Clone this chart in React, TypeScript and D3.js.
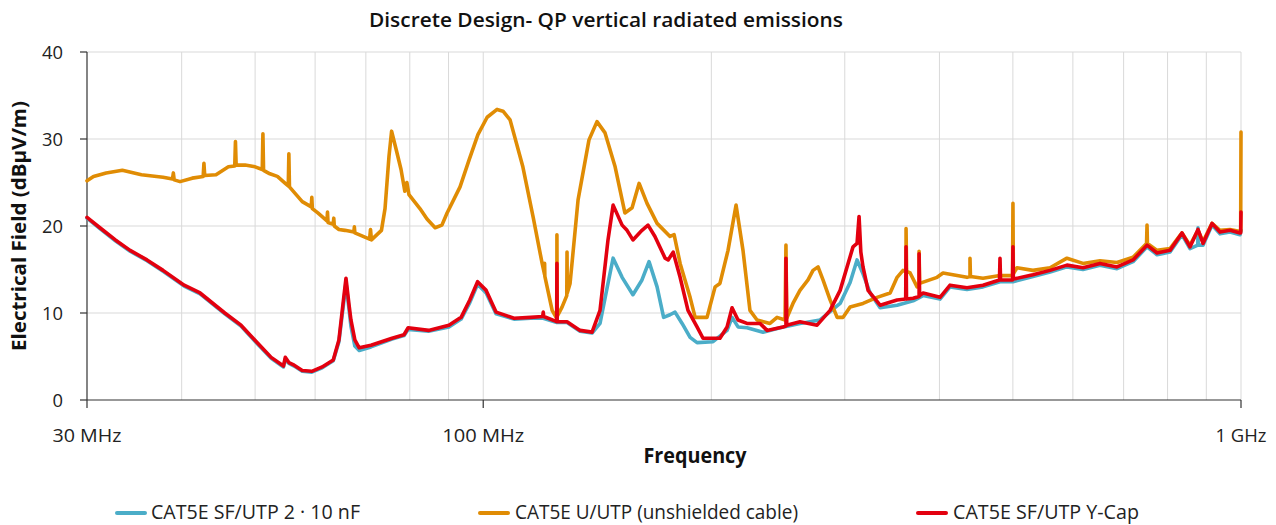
import React from "react";
import * as d3 from "d3";

const seriesNames = ["CAT5E SF/UTP 2 · 10 nF", "CAT5E U/UTP (unshielded cable)", "CAT5E SF/UTP Y-Cap"];
const seriesColors = ["#4badc8", "#e08c04", "#e3000f"];
const yTicks = [0, 10, 20, 30, 40];
const xTickValues = [30, 100, 1000];
const xTickLabels = ["30 MHz", "100 MHz", "1 GHz"];
const xGrid = [40, 50, 60, 70, 80, 90, 100, 200, 300, 400, 500, 600, 700, 800, 900, 1000];

// [frequency MHz, dBµV/m]
const blueData: [number, number][] = [
  [30.0, 20.9], [31.2, 19.7], [32.7, 18.3], [34.2, 17.1], [36.0, 16.0], [37.8, 14.8], [40.3, 13.1], [42.3, 12.2],
  [45.6, 9.9], [47.9, 8.5], [50.3, 6.5], [52.5, 4.8], [54.5, 3.8], [54.8, 4.7], [55.4, 4.2], [56.3, 3.9],
  [57.7, 3.3], [59.4, 3.2], [61.3, 3.7], [63.4, 4.5], [64.5, 6.7], [65.3, 10.5], [65.9, 13.5], [66.5, 10.5],
  [66.9, 8.5], [67.7, 6.2], [68.6, 5.7], [71.1, 6.1], [75.8, 7.0], [78.6, 7.4], [79.6, 8.1], [84.7, 7.9],
  [90.1, 8.4], [93.5, 9.3], [96.0, 11.2], [98.3, 13.3], [100.9, 12.3], [104.0, 9.9], [109.8, 9.3], [115.5, 9.4],
  [120.0, 9.4], [125.1, 8.9], [129.0, 8.9], [134.2, 7.9], [139.2, 7.7], [142.6, 8.8], [146.1, 13.4], [148.4, 16.3],
  [152.5, 14.1], [157.6, 12.1], [162.0, 13.8], [165.5, 15.9], [169.6, 13.0], [173.0, 9.5], [176.4, 9.8], [179.1, 10.1],
  [183.0, 8.8], [187.5, 7.2], [191.5, 6.6], [201.0, 6.7], [209.8, 8.0], [213.0, 9.5], [216.9, 8.4], [222.9, 8.3],
  [234.0, 7.8], [246.5, 8.3], [261.8, 8.8], [278.3, 9.2], [295.8, 11.1], [304.9, 13.5], [311.4, 16.1], [317.1, 14.5],
  [324.0, 12.3], [334.0, 10.6], [351.7, 10.9], [369.2, 11.4], [380.6, 12.0], [400.7, 11.6], [413.1, 13.0], [434.9, 12.7],
  [456.6, 13.0], [480.8, 13.6], [500.1, 13.6], [531.4, 14.2], [559.8, 14.7], [589.3, 15.3], [618.7, 15.0], [651.5, 15.5],
  [686.1, 15.1], [720.3, 15.9], [751.6, 17.6], [774.8, 16.7], [806.0, 17.0], [835.8, 19.0], [856.4, 17.4], [877.0, 17.8],
  [877.5, 19.8], [878.0, 17.8], [891.0, 17.8], [915.7, 20.1], [938.2, 19.1], [967.2, 19.3], [997.0, 19.0], [1000, 19.5],
];

const orangeData: [number, number][] = [
  [30.0, 25.2], [30.6, 25.7], [31.8, 26.1], [33.4, 26.4], [35.4, 25.9], [37.8, 25.6], [38.9, 25.4], [39.0, 26.1],
  [39.1, 25.3], [39.8, 25.1], [41.3, 25.5], [42.7, 25.7], [42.8, 27.2], [42.9, 25.8], [44.4, 25.9], [46.1, 26.8],
  [47.0, 26.9], [47.1, 29.7], [47.2, 27.0], [48.5, 27.0], [50.0, 26.8], [51.1, 26.5], [51.2, 30.6], [51.3, 26.4],
  [52.3, 26.0], [53.5, 25.7], [54.8, 24.9], [55.3, 24.6], [55.4, 28.3], [55.5, 24.5], [57.7, 22.8], [59.3, 22.2],
  [59.4, 23.3], [59.5, 22.0], [60.5, 21.5], [62.2, 20.6], [62.3, 21.6], [62.4, 20.4], [63.4, 20.2], [63.5, 20.9],
  [63.6, 20.0], [64.5, 19.6], [65.7, 19.5], [67.5, 19.3], [67.6, 19.9], [67.7, 19.2], [70.8, 18.5], [71.0, 19.6],
  [71.2, 18.4], [73.4, 19.5], [74.2, 22.0], [75.1, 28.0], [75.7, 30.9], [76.9, 28.5], [77.9, 26.5], [78.8, 24.0],
  [79.3, 25.0], [79.8, 23.6], [82.5, 22.0], [84.3, 20.8], [86.4, 19.8], [88.2, 20.1], [89.6, 21.5], [93.2, 24.5],
  [95.8, 27.6], [98.4, 30.5], [101.2, 32.5], [104.3, 33.4], [106.2, 33.2], [108.5, 32.2], [112.8, 26.8], [116.4, 21.0],
  [119.6, 15.7], [120.5, 14.4], [120.5, 15.7], [120.6, 14.2], [123.3, 10.3], [124.8, 9.5], [125.1, 9.5], [125.1, 19.0],
  [125.2, 9.6], [127.1, 10.7], [128.9, 12.0], [129.0, 17.0], [129.1, 12.3], [130.2, 13.4], [133.4, 23.0], [137.9, 29.9],
  [141.3, 32.0], [144.8, 30.7], [149.3, 26.8], [153.8, 21.5], [157.2, 22.1], [160.6, 24.9], [164.5, 22.6], [169.6, 20.3],
  [176.4, 18.8], [178.6, 19.0], [181.9, 15.7], [187.5, 11.8], [190.4, 9.5], [197.4, 9.5], [202.3, 13.0], [205.3, 13.4],
  [210.4, 17.2], [215.6, 22.4], [220.2, 17.2], [224.9, 10.3], [229.8, 9.2], [239.0, 8.8], [244.2, 9.5], [250.2, 9.2],
  [250.9, 17.8], [251.5, 9.4], [256.3, 11.1], [261.8, 12.6], [268.3, 13.8], [272.4, 14.9], [276.6, 15.3], [280.8, 13.8],
  [286.9, 11.5], [293.1, 9.5], [298.5, 9.5], [304.9, 10.7], [317.1, 11.1], [330.9, 11.8], [344.3, 12.3], [351.7, 14.1],
  [358.1, 14.9], [361.4, 14.8], [361.4, 19.7], [362.0, 14.8], [365.9, 14.6], [373.7, 13.0], [376.0, 13.2], [376.0, 17.1],
  [376.6, 13.4], [397.1, 14.1], [404.4, 14.6], [434.9, 14.1], [438.9, 14.2], [438.9, 16.3], [439.5, 14.2], [456.6, 14.0],
  [480.8, 14.3], [499.5, 14.3], [500.1, 22.6], [500.7, 14.5], [506.2, 15.2], [531.4, 14.9], [559.8, 15.2], [589.3, 16.3],
  [618.7, 15.7], [651.5, 16.0], [686.1, 15.8], [720.3, 16.4], [750.5, 18.0], [751.6, 20.1], [752.5, 18.0], [774.8, 17.2],
  [806.0, 17.4], [835.8, 19.2], [856.4, 17.8], [877.5, 19.5], [891.0, 18.2], [915.7, 20.3], [938.2, 19.5], [967.2, 19.6],
  [994.0, 19.4], [999.0, 19.4], [1000, 30.8],
];

const redData: [number, number][] = [
  [30.0, 21.0], [31.2, 19.8], [32.7, 18.4], [34.2, 17.2], [36.0, 16.1], [37.8, 14.9], [40.3, 13.2], [42.3, 12.3],
  [45.6, 10.0], [47.9, 8.6], [50.3, 6.6], [52.5, 4.9], [54.5, 3.9], [54.8, 4.9], [55.4, 4.3], [56.3, 4.0],
  [57.7, 3.4], [59.4, 3.3], [61.3, 3.8], [63.4, 4.6], [64.5, 6.9], [65.3, 11.0], [65.9, 14.0], [66.5, 11.0],
  [66.9, 9.2], [67.7, 6.9], [68.6, 6.0], [71.1, 6.3], [75.8, 7.1], [78.6, 7.5], [79.6, 8.3], [84.7, 8.0],
  [90.1, 8.6], [93.5, 9.5], [96.0, 11.5], [98.3, 13.6], [100.9, 12.6], [104.0, 10.1], [109.8, 9.4], [115.5, 9.5],
  [119.8, 9.6], [120.0, 10.1], [120.2, 9.6], [125.0, 9.0], [125.1, 15.7], [125.2, 9.0], [129.0, 9.0], [134.2, 8.0],
  [139.2, 7.8], [142.6, 10.3], [146.1, 18.4], [148.4, 22.4], [152.5, 20.1], [154.8, 19.5], [157.6, 18.4], [162.0, 19.5],
  [165.0, 20.1], [168.5, 18.8], [173.8, 16.3], [175.4, 16.1], [178.1, 17.0], [181.9, 14.1], [186.3, 10.3], [191.5, 8.4],
  [195.0, 7.1], [205.3, 7.1], [209.8, 8.4], [213.0, 10.6], [216.9, 9.2], [222.9, 8.8], [231.9, 8.8], [236.9, 8.0],
  [248.6, 8.4], [250.9, 8.5], [250.9, 16.3], [251.5, 8.6], [261.8, 9.0], [275.8, 8.6], [286.9, 10.3], [295.8, 12.6],
  [307.6, 17.6], [311.4, 18.0], [313.3, 21.1], [315.0, 17.0], [317.1, 15.3], [322.0, 12.6], [334.0, 10.9], [351.7, 11.5],
  [361.0, 11.6], [361.4, 17.6], [361.9, 11.6], [369.2, 11.7], [376.0, 11.9], [376.0, 16.8], [376.6, 12.0], [380.6, 12.3],
  [400.7, 11.8], [413.1, 13.2], [434.9, 12.9], [456.6, 13.2], [480.0, 13.8], [480.8, 16.3], [481.6, 13.8], [499.5, 13.8],
  [500.1, 17.6], [500.7, 13.9], [531.4, 14.4], [559.8, 14.9], [589.3, 15.5], [618.7, 15.2], [651.5, 15.7], [686.1, 15.3],
  [720.3, 16.1], [751.6, 17.8], [774.8, 16.9], [806.0, 17.2], [835.8, 19.2], [856.4, 17.6], [877.5, 19.6], [891.0, 18.0],
  [915.7, 20.3], [938.2, 19.3], [967.2, 19.5], [997.0, 19.2], [999.0, 19.2], [1000, 21.6],
];

const allSeries = [blueData, orangeData, redData];

const W = 1276;
const H = 525;
const left = 87;
const right = 1241;
const top = 52;
const bottom = 400;

export default function App() {
  const x = d3.scaleLog().domain([30, 1000]).range([left, right]);
  const y = d3.scaleLinear().domain([0, 40]).range([bottom, top]);
  const line = d3
    .line<[number, number]>()
    .x((d) => x(d[0]))
    .y((d) => y(d[1]));

  const font = "'Open Sans', 'Noto Sans', sans-serif";
  const legendLineX = [117, 480, 918];
  const legendTextX = [151, 515, 953];
  const legendTextW = [209, 283, 186];
  const xLabelW = [69, 82, 51];

  return (
    <svg
      width={W}
      height={H}
      style={{ position: "absolute", left: 0, top: 0, background: "#fff" }}
      fontFamily={font}
    >
      <rect x={0} y={0} width={W} height={H} fill="#fff" />
      <text x={606} y={27} textAnchor="middle" fontSize={20} fontWeight={600} fill="#111" textLength={474} lengthAdjust="spacingAndGlyphs">
        Discrete Design- QP vertical radiated emissions
      </text>

      {/* gridlines */}
      {yTicks.filter((t) => t > 0).map((t) => (
        <line key={"hy" + t} x1={left} x2={right} y1={y(t)} y2={y(t)} stroke="#d9d9d9" strokeWidth={1} />
      ))}
      {xGrid.map((g) => (
        <line key={"vx" + g} x1={x(g)} x2={x(g)} y1={top} y2={bottom} stroke="#d9d9d9" strokeWidth={1} />
      ))}

      {/* axes */}
      <line x1={left} x2={left} y1={top} y2={bottom} stroke="#333" strokeWidth={1.2} />
      <line x1={left} x2={right} y1={bottom} y2={bottom} stroke="#333" strokeWidth={1.2} />
      {yTicks.map((t) => (
        <g key={"yt" + t}>
          <line x1={left - 7} x2={left} y1={y(t)} y2={y(t)} stroke="#333" strokeWidth={1.2} />
          <text x={63} y={y(t) + 6.5} textAnchor="end" fontSize={19} fill="#222" textLength={t === 0 ? 10.5 : 21} lengthAdjust="spacingAndGlyphs">
            {t}
          </text>
        </g>
      ))}
      {xTickValues.map((v, i) => (
        <g key={"xt" + v}>
          <line x1={x(v)} x2={x(v)} y1={bottom} y2={bottom + 8} stroke="#333" strokeWidth={1.2} />
          <text x={x(v)} y={442} textAnchor="middle" fontSize={19} fill="#222" textLength={xLabelW[i]} lengthAdjust="spacingAndGlyphs">
            {xTickLabels[i]}
          </text>
        </g>
      ))}

      <text x={695} y={463} textAnchor="middle" fontSize={20.5} fontWeight={700} fill="#111" textLength={103} lengthAdjust="spacingAndGlyphs">
        Frequency
      </text>
      <text
        transform={`translate(26, 226) rotate(-90)`}
        textAnchor="middle"
        fontSize={20}
        fontWeight={700}
        fill="#111"
        textLength={250}
        lengthAdjust="spacingAndGlyphs"
      >
        Electrical Field (dBµV/m)
      </text>

      {/* series */}
      {allSeries.map((s, i) => (
        <path
          key={"s" + i}
          d={line(s) || ""}
          fill="none"
          stroke={seriesColors[i]}
          strokeWidth={3.6}
          strokeLinejoin="round"
          strokeLinecap="round"
        />
      ))}

      {/* legend */}
      {seriesNames.map((n, i) => (
        <g key={"lg" + i}>
          <line x1={legendLineX[i]} x2={legendLineX[i] + 28} y1={513} y2={513} stroke={seriesColors[i]} strokeWidth={4} strokeLinecap="round" />
          <text x={legendTextX[i]} y={519} fontSize={19.5} fill="#222" textLength={legendTextW[i]} lengthAdjust="spacingAndGlyphs">
            {n}
          </text>
        </g>
      ))}
    </svg>
  );
}
